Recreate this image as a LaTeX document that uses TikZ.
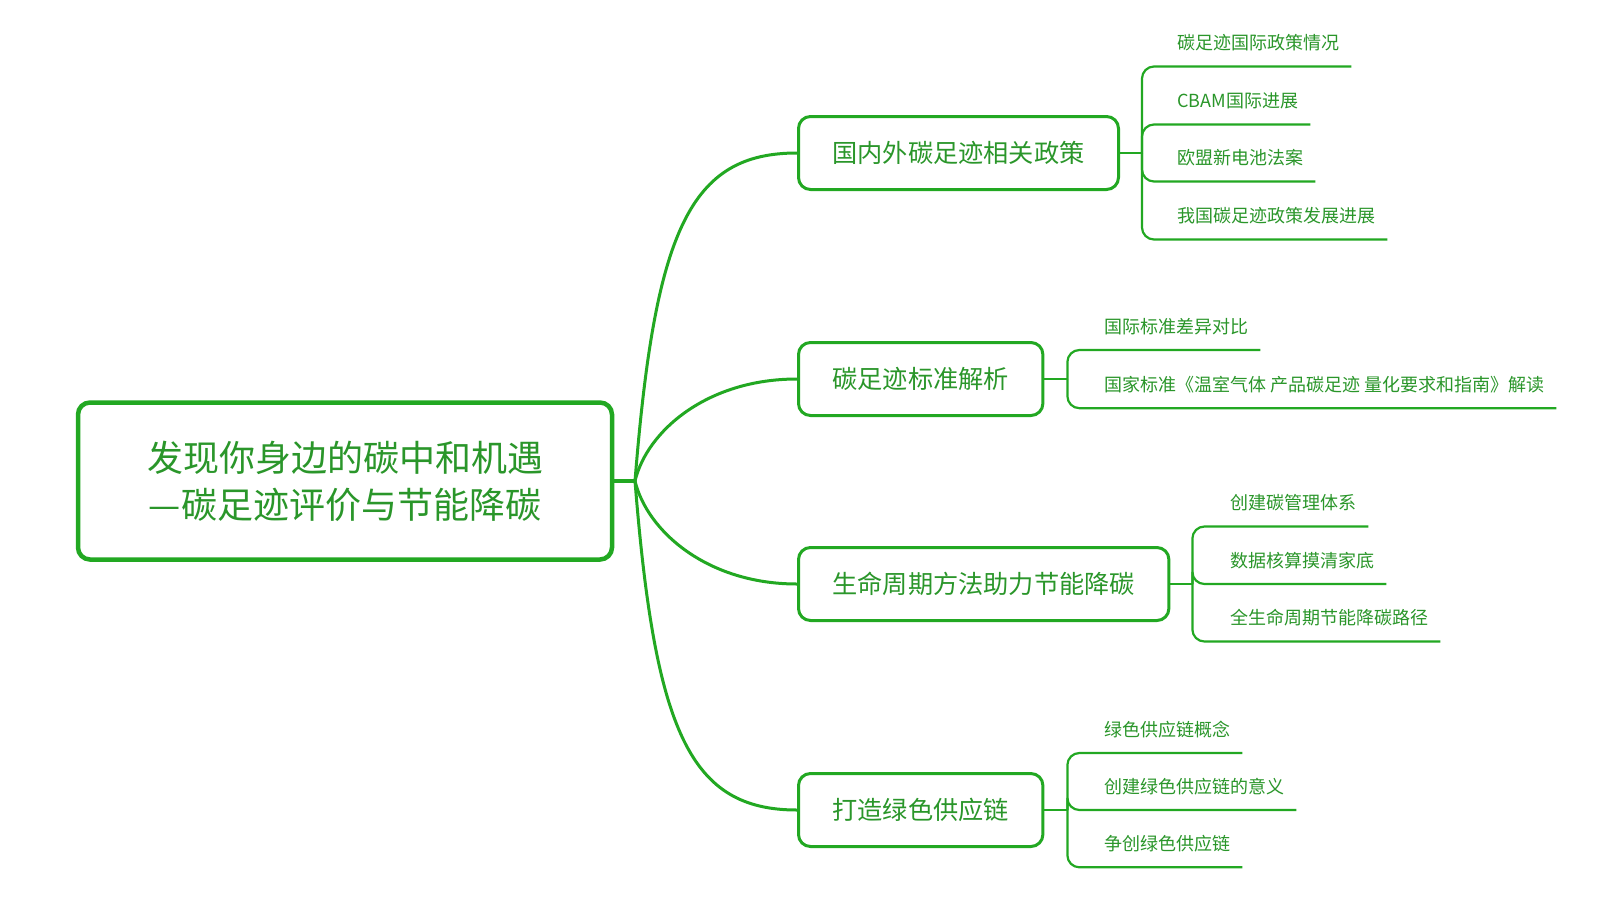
\documentclass[tikz,border=0pt]{standalone}
\usepackage{fontspec}
\newfontfamily\cjk{Noto Sans CJK SC}
\definecolor{lg}{RGB}{34,168,34}
\definecolor{tg}{RGB}{42,150,42}
\begin{document}
\begin{tikzpicture}[x=1pt,y=-1pt,
  rootbox/.style={draw=lg, line width=4.5pt, rounded corners=12pt, minimum width=534pt, minimum height=157pt, align=center, text=tg, font=\cjk\fontsize{36}{47}\selectfont, inner sep=0pt},
  topicbox/.style={draw=lg, line width=3pt, rounded corners=12pt, minimum height=73pt, inner xsep=34pt, text=tg, font=\cjk\fontsize{25.2}{30}\selectfont, anchor=west},
  leaf/.style={text=tg, font=\cjk\fontsize{18}{22}\selectfont, inner sep=0pt, anchor=west},
  curve/.style={draw=lg, line width=3pt},
  stub/.style={draw=lg, line width=2.2pt},
  leafline/.style={draw=lg, line width=2.2pt, rounded corners=12pt},
]
\useasboundingbox (0,0) rectangle (1600,900);
\fill[white] (0,0) rectangle (1600,900);

\node[rootbox] (root) at (345,481) {发现你身边的碳中和机遇\\—碳足迹评价与节能降碳};
\coordinate (j0) at (635,481);

\node[topicbox] (b1) at (797,153) {国内外碳足迹相关政策};
\node[topicbox] (b2) at (797,379) {碳足迹标准解析};
\node[topicbox] (b3) at (797,584) {生命周期方法助力节能降碳};
\node[topicbox] (b4) at (797,810) {打造绿色供应链};

\draw[curve, line width=4pt] (root.east) -- (j0);
\draw[curve] (j0) .. controls +(20,-251) and +(-107,0) .. (b1.west);
\draw[curve] (j0) .. controls +(12,-50) and +(-90,0) .. (b2.west);
\draw[curve] (j0) .. controls +(12,50) and +(-90,0) .. (b3.west);
\draw[curve] (j0) .. controls +(20,251) and +(-107,0) .. (b4.west);

% group 1
\coordinate (j1) at ([xshift=22pt]b1.east);
\node[leaf] (l11) at (1177,43) {碳足迹国际政策情况};
\node[leaf] (l12) at (1177,101) {CBAM国际进展};
\node[leaf] (l13) at (1177,158) {欧盟新电池法案};
\node[leaf] (l14) at (1177,216) {我国碳足迹政策发展进展};
\draw[stub] (b1.east) -- (j1);
\foreach \l in {l11,l12,l13,l14} \draw[leafline] (j1) |- ([xshift=12pt,yshift=-23.5pt]\l.east);

% group 2
\coordinate (j2) at ([xshift=23pt]b2.east);
\node[leaf] (l21) at (1104,326.5) {国际标准差异对比};
\node[leaf] (l22) at (1104,384.7) {国家标准《温室气体 产品碳足迹 量化要求和指南》解读};
\draw[stub] (b2.east) -- (j2);
\foreach \l in {l21,l22} \draw[leafline] (j2) |- ([xshift=12pt,yshift=-23.5pt]\l.east);

% group 3
\coordinate (j3) at ([xshift=22pt]b3.east);
\node[leaf] (l31) at (1230,503) {创建碳管理体系};
\node[leaf] (l32) at (1230,560.5) {数据核算摸清家底};
\node[leaf] (l33) at (1230,618) {全生命周期节能降碳路径};
\draw[stub] (b3.east) -- (j3);
\foreach \l in {l31,l32,l33} \draw[leafline] (j3) |- ([xshift=12pt,yshift=-23.5pt]\l.east);

% group 4
\coordinate (j4) at ([xshift=23pt]b4.east);
\node[leaf] (l41) at (1104,729.5) {绿色供应链概念};
\node[leaf] (l42) at (1104,786.5) {创建绿色供应链的意义};
\node[leaf] (l43) at (1104,843.8) {争创绿色供应链};
\draw[stub] (b4.east) -- (j4);
\foreach \l in {l41,l42,l43} \draw[leafline] (j4) |- ([xshift=12pt,yshift=-23.5pt]\l.east);
\end{tikzpicture}
\end{document}
